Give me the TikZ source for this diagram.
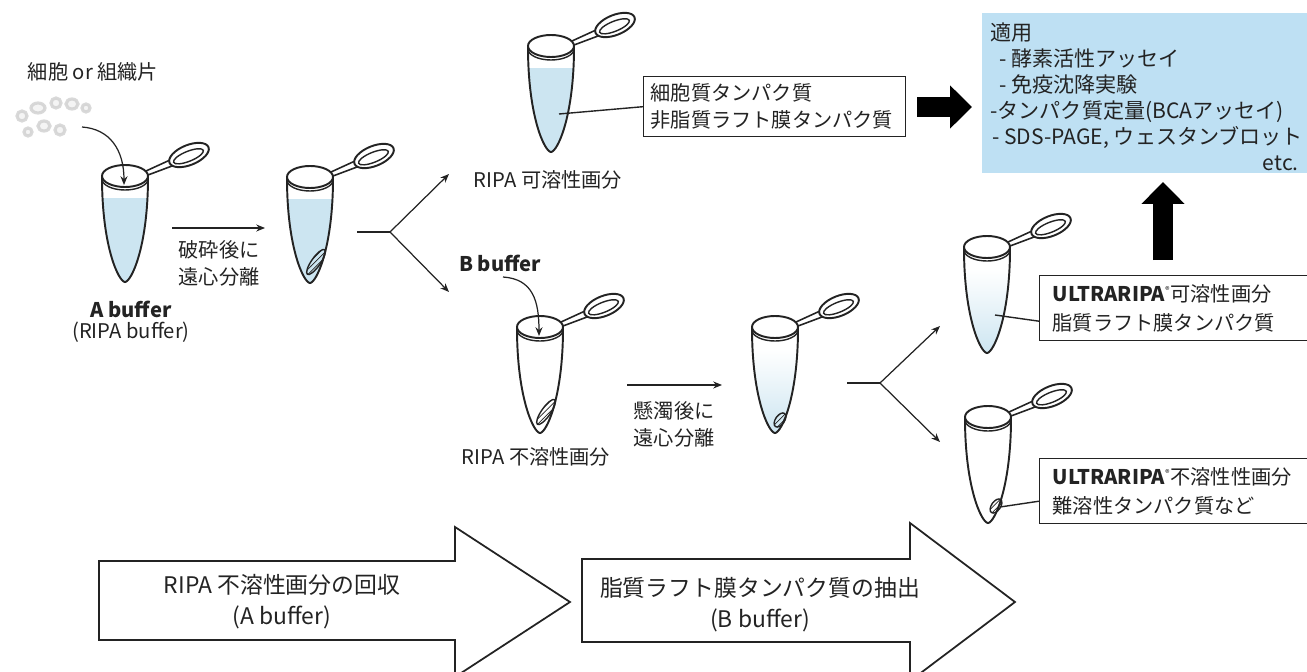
\documentclass[tikz,border=0pt]{standalone}
\usepackage{fontspec}
\setmainfont{Noto Sans CJK JP}
\usetikzlibrary{arrows.meta,calc,patterns}

\definecolor{ink}{RGB}{35,35,35}
\definecolor{tubeblue}{RGB}{204,229,241}
\definecolor{panelblue}{RGB}{190,224,243}

\tikzset{
  tubeline/.style={draw=ink, line width=1.1pt},
  % microtube, origin at the centre of the rim, #1 = liquid fill
  pics/tube/.style={code={
    \begin{scope}
      \clip (-23,1) .. controls (-23,72) and (-6,106) .. (0,106)
            .. controls (6,106) and (23,72) .. (23,1) -- cycle;
      \fill[#1] (-25,22) rectangle (25,108);
    \end{scope}
    \draw[tubeline] (-23,1) .. controls (-23,72) and (-6,106) .. (0,106)
          .. controls (6,106) and (23,72) .. (23,1);
    \draw[tubeline, line width=0.9pt] (21,-5) -- (45,-16) (23,-1) -- (47,-10);
    \draw[tubeline, fill=white] (0,0) ellipse [x radius=23, y radius=11];
    \draw[tubeline, line width=0.8pt] (-23,3) arc [start angle=180, end angle=0, x radius=23, y radius=11];
    \begin{scope}[shift={(64,-21)}, rotate=22]
      \draw[tubeline, fill=white] (0,0) ellipse [x radius=21, y radius=10];
      \draw[tubeline, line width=0.8pt] (-1,1) ellipse [x radius=16, y radius=5];
    \end{scope}
    \coordinate (-in) at (-1,9);
    \coordinate (-liq) at (8,68);
  }},
  pics/pellet/.style={code={
    \draw[tubeline, line width=0.8pt, pattern=north east lines, pattern color=ink]
      (0,0) ellipse [x radius=#1, y radius=4.5];
  }},
  labelbox/.style={draw=ink, line width=0.8pt, fill=white, anchor=north west, align=left},
  stage/.style={draw=ink, line width=1pt, fill=white, line join=miter},
}

\begin{document}
\begin{tikzpicture}[x=0.02cm, y=-0.02cm,
  font=\fontsize{11.5}{15.5}\selectfont,
  every node/.style={text=ink},
  >={Stealth[length=5pt,width=4pt]},
  flow/.style={draw=ink, line width=0.7pt, ->},
  lead/.style={draw=ink, line width=0.8pt},
  fat/.style={draw=black, line width=0.4cm, -{Triangle[length=0.44cm,width=0.84cm]}}]
\useasboundingbox (0,0) rectangle (1307,672);
\clip (0,0) rectangle (1307,672);

% starting material
\node (cells) at (93,72) {細胞 or 組織片};
\begin{scope}[draw=gray!40, fill=gray!12, line width=1.8pt, opacity=0.75]
  \filldraw (22,116) circle [radius=5];
  \filldraw (38,108) ellipse [x radius=7, y radius=5];
  \filldraw (56,103) circle [radius=5];
  \filldraw (72,104) ellipse [x radius=6, y radius=5];
  \filldraw (86,108) circle [radius=4];
  \filldraw (44,126) ellipse [x radius=6, y radius=5];
  \filldraw (60,130) circle [radius=5];
  \filldraw (28,132) circle [radius=4];
\end{scope}
\coordinate (frag) at (82,127);

% lysis in A buffer
\pic (ta) at (125,176) {tube={fill=tubeblue}};
\draw[flow] (frag) .. controls +(28,2) and +(0,-35) .. (ta-in);
\node[font=\fontsize{11.5}{15.5}\selectfont\bfseries] (abuf) at (131,309) {A buffer};
\node (ripabuf) at (131,332) {(RIPA buffer)};

\coordinate (crushS) at (172,228);
\coordinate (crushE) at (265,228);
\draw[flow] (crushS) -- (crushE);
\node[align=center] (crushlbl) at (219,263) {破砕後に\\遠心分離};

\pic (tb) at (310,177) {tube={fill=tubeblue}};
\pic[rotate=55] at (316,262) {pellet=15};

% first split
\coordinate (split1) at (357,232);
\coordinate (fork1) at (390,232);
\coordinate (up1) at (449,174);
\coordinate (down1) at (449,292);
\draw[lead, line width=0.7pt] (split1) -- (fork1);
\draw[flow] (fork1) -- (up1);
\draw[flow] (fork1) -- (down1);

% RIPA soluble fraction
\pic (tc) at (551,46) {tube={fill=tubeblue}};
\node (solA) at (548,180) {RIPA 可溶性画分};
\node[labelbox, text width=4.96cm, inner xsep=0.14cm, minimum height=1.2cm] (cyto) at (643,76)
  {細胞質タンパク質\\非脂質ラフト膜タンパク質};
\draw[lead] (tc-liq) -- (cyto.west);

\coordinate (toappsS) at (917,107);
\coordinate (toappsE) at (972,107);
\draw[fat] (toappsS) -- (toappsE);

% applications
\node[fill=panelblue, anchor=north west, minimum width=6.6cm, minimum height=3.2cm] (apps) at (982,13) {};
\node[anchor=north west, align=left, inner sep=0pt, font=\fontsize{12}{14.8}\selectfont] (uses) at (990,22)
  {適用\\
   \hspace{0.18cm}- 酵素活性アッセイ\\
   \hspace{0.18cm}- 免疫沈降実験\\
   -タンパク質定量(BCAアッセイ)\\
   \hspace{0.04cm}- SDS-PAGE,~ウェスタンブロット};
\node[anchor=east, inner sep=0pt, font=\fontsize{12}{14.8}\selectfont] (etc) at (1299,163) {etc.};

% RIPA insoluble fraction in B buffer
\node[font=\fontsize{11.5}{15.5}\selectfont\bfseries] (bbuf) at (500,263) {B buffer};
\coordinate (bdrop) at (503,277);
\pic (td) at (540,327) {tube={fill=none}};
\pic[rotate=55] at (546,412) {pellet=15};
\draw[flow] (bdrop) .. controls +(30,2) and +(0,-35) .. (td-in);
\node (insolA) at (536,457) {RIPA 不溶性画分};

\coordinate (suspS) at (627,385);
\coordinate (suspE) at (722,385);
\draw[flow] (suspS) -- (suspE);
\node[align=center] (susplbl) at (674,424) {懸濁後に\\遠心分離};

\pic (te) at (775,327) {tube={top color=white, bottom color=tubeblue}};
\pic[rotate=55] at (780,420) {pellet=8};

% second split
\coordinate (split2) at (847,383);
\coordinate (fork2) at (880,383);
\coordinate (up2) at (940,326);
\coordinate (down2) at (940,442);
\draw[lead, line width=0.7pt] (split2) -- (fork2);
\draw[flow] (fork2) -- (up2);
\draw[flow] (fork2) -- (down2);

% ULTRARIPA soluble fraction
\pic (tf) at (987,247) {tube={top color=white, bottom color=tubeblue}};
\node[labelbox, text width=5.2cm, inner xsep=0.26cm, minimum height=1.3cm, font=\fontsize{11.5}{16.4}\selectfont] (ultra1) at (1039,275)
  {\textbf{ULTRARIPA}\textsuperscript{\tiny ®}可溶性画分\\脂質ラフト膜タンパク質};
\draw[lead] (tf-liq) -- ($(ultra1.west)+(0,13)$);

\coordinate (upS) at (1163,260);
\coordinate (upE) at (1163,182);
\draw[fat] (upS) -- (upE);

% ULTRARIPA insoluble fraction
\pic (tg) at (988,417) {tube={fill=none}};
\pic[rotate=55] (tgp) at (996,506) {pellet=8};
\node[labelbox, text width=5.2cm, inner xsep=0.26cm, minimum height=1.3cm, font=\fontsize{11.5}{16.4}\selectfont] (ultra2) at (1039,458)
  {\textbf{ULTRARIPA}\textsuperscript{\tiny ®}不溶性性画分\\難溶性タンパク質など};
\coordinate (pellet7) at (1000,507);
\draw[lead] (pellet7) -- ($(ultra2.west)+(0,10)$);

% the two stages
\draw[stage] (99,561) -- (455,561) -- (455,527) -- (570,602) -- (455,677) -- (455,640) -- (99,640) -- cycle;
\node[align=center, font=\fontsize{13}{17.6}\selectfont] (recover) at (282,602) {RIPA 不溶性画分の回収\\(A buffer)};
\draw[stage] (582,559) -- (910,559) -- (910,523) -- (1015,602) -- (910,681) -- (910,642) -- (582,642) -- cycle;
\node[align=center, font=\fontsize{13}{17.6}\selectfont] (extract) at (760,605) {脂質ラフト膜タンパク質の抽出\\(B buffer)};
\end{tikzpicture}
\end{document}
